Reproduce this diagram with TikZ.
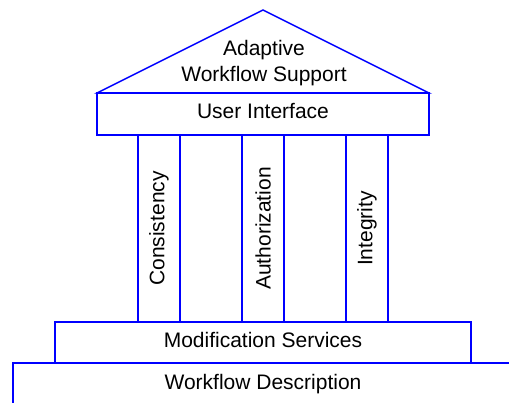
\documentclass[tikz,border=0pt]{standalone}
\usepackage{fontspec}
\setmainfont{Liberation Sans}
\begin{document}
\begin{tikzpicture}[x=1pt,y=-1pt,
  part/.style={draw=blue, line width=1.5pt},
  lbl/.style={font=\fontsize{21}{25}\selectfont, inner sep=0pt, text=black},
  vlbl/.style={lbl, rotate=90}]
\useasboundingbox (0,0) rectangle (509,403);
\clip (0,0) rectangle (509,403);
% roof
\draw[part, line join=miter] (97,93) -- (263,10) -- (429,93) -- cycle;
% user interface beam
\draw[part] (97,93) rectangle (429,135);
% pillars
\draw[part] (138,135) rectangle (180,322);
\draw[part] (242,135) rectangle (284,322);
\draw[part] (346,135) rectangle (388,322);
% modification services
\draw[part] (55,322) rectangle (471,363);
% workflow description
\draw[part] (13,406) -- (13,363) -- (515,363) -- (515,406);
% labels
\node[lbl, anchor=base] (adapt) at (264,56) {Adaptive};
\node[lbl, anchor=base] (wfs) at (264,81.5) {Workflow Support};
\node[lbl, anchor=base] (ui) at (263,119) {User Interface};
\node[vlbl] (cons) at (159,228.5) {Consistency};
\node[vlbl] (auth) at (263,228.5) {Authorization};
\node[vlbl] (integ) at (367,228.5) {Integrity};
\node[lbl, anchor=base] (mod) at (263,348) {Modification Services};
\node[lbl, anchor=base] (wfd) at (263,389) {Workflow Description};
\end{tikzpicture}
\end{document}
